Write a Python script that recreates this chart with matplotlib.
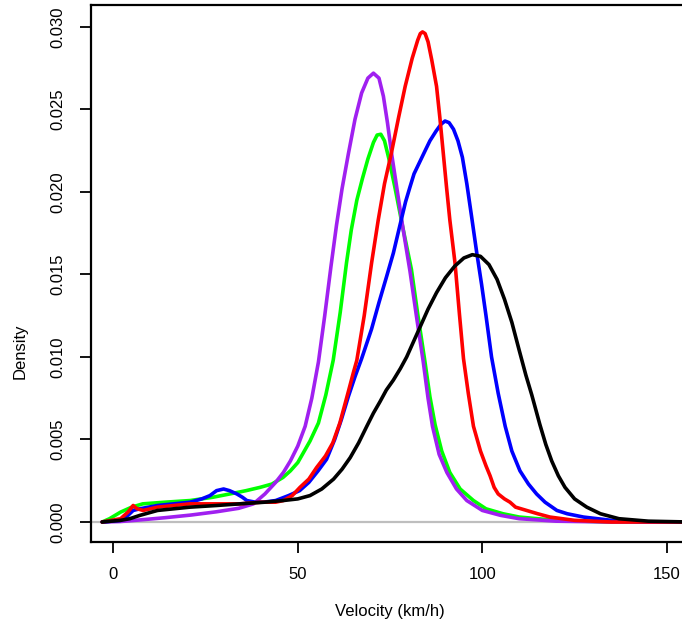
import matplotlib
matplotlib.use("Agg")
import matplotlib.pyplot as plt

plt.rcParams['font.family'] = ['Liberation Sans', 'DejaVu Sans']

# density curves (velocity km/h, density)
green_x = [-3, -1, 2, 5, 8, 14, 20.8, 27, 31.6, 36, 39.8, 43, 46, 48, 50, 53.3, 55.6, 57.6, 59.6,
           61.5, 63.2, 64.5, 66, 67.5, 69, 70.5, 71.5, 72.5, 73.5, 74.7, 76.3, 78.5, 80.8, 82.5,
           84.4, 85.8, 87.2, 89, 91.2, 94, 97.6, 101, 105.6, 110, 120, 135, 156]
green_y = [0, 0.0002, 0.0006, 0.0009, 0.0011, 0.0012, 0.0013, 0.0015, 0.0017, 0.0019, 0.0021,
           0.0023, 0.0027, 0.0031, 0.0036, 0.0049, 0.0060, 0.0077, 0.0098, 0.0127, 0.0157, 0.0177,
           0.0195, 0.0208, 0.0220, 0.0230, 0.02345, 0.0235, 0.0231, 0.0220, 0.0203, 0.0178, 0.0153,
           0.0126, 0.0098, 0.0076, 0.0059, 0.0043, 0.0030, 0.0020, 0.0013, 0.0008, 0.0005, 0.0003,
           0.0001, 0, 0]

purple_x = [-3, 2, 7, 14, 21, 28, 34, 38, 41.1, 44, 46.1, 48, 50, 52, 53.8, 55.6, 57.3, 59, 60.5,
            62, 63.7, 65.5, 67.3, 69, 70.5, 72, 73.2, 74.3, 75.5, 76.8, 78.5, 80.4, 82.2, 84,
            85.3, 86.5, 88.3, 90.4, 93, 95.8, 100, 105, 110, 120, 135, 156]
purple_y = [0, 0.00003, 0.00012, 0.00026, 0.00042, 0.00062, 0.00083, 0.0011, 0.0017, 0.0024,
            0.0030, 0.0037, 0.0046, 0.0058, 0.0075, 0.0097, 0.0125, 0.0155, 0.0180, 0.0202, 0.0223,
            0.0244, 0.0260, 0.0269, 0.0272, 0.0269, 0.0258, 0.0242, 0.0222, 0.0203, 0.0178, 0.0152,
            0.0124, 0.0097, 0.0075, 0.0058, 0.0041, 0.0030, 0.0020, 0.0013, 0.0007, 0.0004, 0.0002,
            0.00005, 0, 0]

blue_x = [-3, 2, 4, 5.4, 7.2, 12, 20.8, 24, 26.2, 28, 29.9, 31.5, 33.5, 35, 36.2, 38.5, 40.7, 44,
          47.5, 50.5, 53, 55.5, 57.8, 60, 61.8, 63.7, 65.5, 67.3, 70, 72, 74.1, 75.9, 77.7, 79.2,
          80.4, 81.5, 83, 84.5, 85.8, 87.5, 88.8, 89.9, 91, 92.2, 93.4, 94.6, 95.8, 97.1, 98.5,
          99.8, 101, 102.5, 104.3, 106.2, 108, 110.2, 112.5, 114.7, 117, 120.2, 123, 127.4, 135,
          145, 156]
blue_y = [0, 0.0001, 0.0004, 0.0007, 0.0008, 0.0010, 0.0012, 0.0014, 0.0016, 0.0019, 0.0020,
          0.0019, 0.0017, 0.0015, 0.0013, 0.0012, 0.0012, 0.0013, 0.0016, 0.0019, 0.0024, 0.0031,
          0.0038, 0.0050, 0.0062, 0.0076, 0.0088, 0.0099, 0.0117, 0.0133, 0.0149, 0.0163, 0.0180,
          0.0194, 0.0203, 0.0211, 0.0218, 0.0225, 0.0231, 0.0237, 0.0241, 0.0243, 0.0242, 0.0238,
          0.0231, 0.0221, 0.0205, 0.0185, 0.0163, 0.0144, 0.0125, 0.0100, 0.0078, 0.0058, 0.0043,
          0.0031, 0.0023, 0.0017, 0.0012, 0.0007, 0.0005, 0.0003, 0.0001, 0, 0]

red_x = [-3, 2, 4, 5.4, 6.5, 8.1, 12, 20.8, 28, 34.3, 40, 44, 46.1, 48.5, 50.6, 53, 55.1, 57.5,
         59.5, 61.4, 63.7, 65, 66, 68, 70, 71.8, 73.5, 75.4, 77.3, 79.1, 81, 82.5, 83.2, 83.8,
         84.5, 85.3, 86.3, 87.6, 88.5, 89.4, 90.3, 91.2, 92.6, 93.8, 94.9, 96.2, 97.6, 99.5, 101,
         102.1, 103.2, 104.3, 106, 107.5, 109, 112, 115, 118.3, 125, 135, 156]
red_y = [0, 0.0002, 0.0006, 0.0010, 0.0008, 0.0007, 0.0009, 0.0011, 0.0011, 0.0011, 0.0012,
         0.0012, 0.0013, 0.0016, 0.0021, 0.0026, 0.0033, 0.0040, 0.0048, 0.0060, 0.0079, 0.0090,
         0.0098, 0.0125, 0.0157, 0.0183, 0.0205, 0.0224, 0.0245, 0.0264, 0.0281, 0.0292, 0.0296,
         0.0297, 0.0296, 0.0291, 0.0280, 0.0264, 0.0245, 0.0224, 0.0203, 0.0183, 0.0157, 0.0126,
         0.0099, 0.0078, 0.0058, 0.0043, 0.0034, 0.0028, 0.0021, 0.0017, 0.0014, 0.0012, 0.0009,
         0.0007, 0.0005, 0.0003, 0.0001, 0, 0]

black_x = [-3, 2, 4.5, 7.2, 12, 20.8, 28, 34.3, 41, 46, 50, 53.3, 56.5, 59.7, 62, 64.2, 66.5, 68.7,
           70.5, 72.3, 74, 75.9, 77.8, 79.5, 81.3, 83.1, 85.3, 87.6, 90, 92.5, 95, 97.3, 99.5,
           101.8, 104, 106, 108, 110, 111.8, 113.4, 115.6, 117.2, 118.8, 120.6, 122.4, 125, 128.3,
           132, 137, 145, 156]
black_y = [0, 0.0001, 0.0002, 0.0004, 0.0007, 0.0009, 0.0010, 0.0011, 0.0012, 0.0013, 0.0014,
           0.0016, 0.0020, 0.0026, 0.0032, 0.0039, 0.0048, 0.0058, 0.0066, 0.0073, 0.0080, 0.0086,
           0.0093, 0.0100, 0.0109, 0.0118, 0.0129, 0.0139, 0.0148, 0.0155, 0.0160, 0.0162, 0.0161,
           0.0156, 0.0147, 0.0135, 0.0121, 0.0104, 0.0089, 0.0077, 0.0059, 0.0047, 0.0037, 0.0028,
           0.0021, 0.0014, 0.0009, 0.0005, 0.0002, 0.00005, 0]

x_ticks = [0, 50, 100, 150]
y_ticks = [0.000, 0.005, 0.010, 0.015, 0.020, 0.025, 0.030]

fig = plt.figure(figsize=(6.82, 6.28), dpi=100)
ax = fig.add_axes([0.133, 0.137, 0.867, 0.855])

ax.axhline(0, color='#BEBEBE', lw=1.6, zorder=1)

series = [(green_x, green_y, '#00FF00'),
          (purple_x, purple_y, '#A020F0'),
          (blue_x, blue_y, '#0000FF'),
          (red_x, red_y, '#FF0000'),
          (black_x, black_y, 'black')]
for xs, ys, col in series:
    ax.plot(xs, ys, color=col, lw=2.6, solid_joinstyle='round', solid_capstyle='round', zorder=2)

ax.set_xlim(-6.1, 154.1)
ax.set_ylim(-0.00121, 0.03133)
ax.set_xticks(x_ticks)
ax.set_xticklabels([str(v) for v in x_ticks])
ax.set_yticks(y_ticks)
ax.set_yticklabels([f"{v:.3f}" for v in y_ticks], rotation=90, va='center')

for side in ['left', 'top', 'bottom']:
    ax.spines[side].set_linewidth(1.6)
ax.spines['right'].set_visible(False)
ax.tick_params(direction='out', length=8, width=1.3, labelsize=12, pad=10)

fig.text(0.03, 0.44, 'Density', rotation=90, ha='center', va='center', fontsize=12)
fig.text(0.572, 0.027, 'Velocity (km/h)', ha='center', va='center', fontsize=12)

plt.savefig('out.png', dpi=100)
